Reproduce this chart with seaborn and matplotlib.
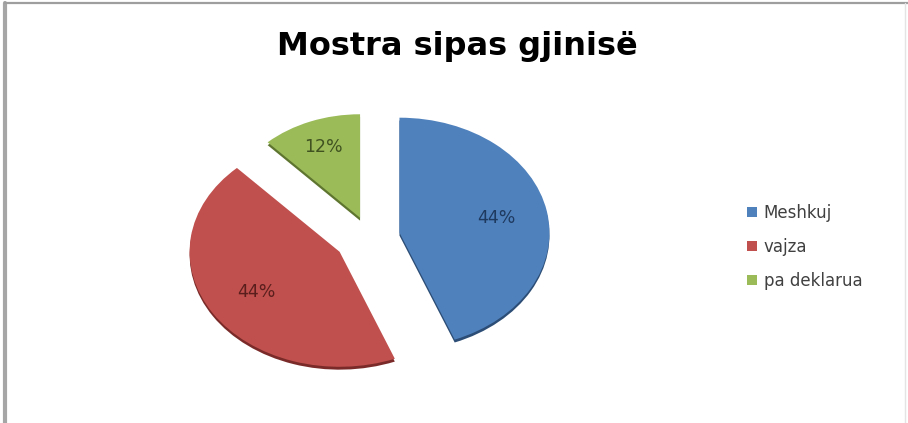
import matplotlib
matplotlib.use("Agg")
import matplotlib.pyplot as plt
from matplotlib.patches import Rectangle
from matplotlib.lines import Line2D
import seaborn as sns

# Survey sample by gender
categories = ["Meshkuj", "vajza", "pa deklarua"]
shares = [44, 44, 12]
title = "Mostra sipas gjinisë"

sns.set_theme(style="white")
plt.rcParams["font.family"] = ["DejaVu Sans"]

face = sns.color_palette(["#4F81BD", "#C0504D", "#9BBB59"])
side = sns.color_palette(["#2C4D75", "#7A2B29", "#5E7530"])
text_col = ["#1F3A5F", "#5A1F1D", "#3F5220"]

W, H = 908, 423
fig = plt.figure(figsize=(W / 100, H / 100), dpi=100)
fig.patch.set_facecolor("white")

# chart frame
fig.add_artist(Line2D([5 / W, 5 / W], [0, 1 - 3 / H], transform=fig.transFigure,
                      color="#A6A6A6", lw=3.0))
fig.add_artist(Line2D([5 / W, 1], [1 - 3.5 / H, 1 - 3.5 / H], transform=fig.transFigure,
                      color="#9E9E9E", lw=1.6))
fig.add_artist(Line2D([905 / W, 905 / W], [0, 1 - 3 / H], transform=fig.transFigure,
                      color="#E4E4E4", lw=1.0))

# pie axes: wider scale horizontally than vertically gives the tilted look
cx, cy = 370, 423 - 237
ux, uy = 150, 115
ax = fig.add_axes([(cx - 1.5 * ux) / W, (cy - 1.5 * uy) / H, 3 * ux / W, 3 * uy / H])

explode = [0.2, 0.24, 0.18]

# slab thickness: a darker copy slightly lower
shadow, _ = ax.pie(shares, colors=side, startangle=90, counterclock=False,
                   explode=explode, center=(0, -0.025),
                   wedgeprops=dict(linewidth=0))
wedges, _, autotexts = ax.pie(shares, colors=face, startangle=90, counterclock=False,
                              explode=explode, autopct="%1.0f%%", pctdistance=0.66,
                              wedgeprops=dict(linewidth=0),
                              textprops=dict(fontsize=12.5))
for w in (shadow[2], wedges[2]):
    w.set_radius(0.9)
for t, c in zip(autotexts, text_col):
    t.set_color(c)

ax.set_aspect("auto")
ax.set_xlim(-1.5, 1.5)
ax.set_ylim(-1.5, 1.5)
ax.axis("off")

fig.text(457 / W, 1 - 46 / H, title, ha="center", va="center",
         fontsize=23, fontweight="bold", color="black")

handles = [Rectangle((0, 0), 1, 1, facecolor=c, edgecolor="none") for c in face]
fig.legend(handles, categories, loc="upper left",
           bbox_to_anchor=(732 / W, 1 - 189 / H), frameon=False,
           fontsize=12, handlelength=0.6, handleheight=0.6,
           handletextpad=0.4, labelspacing=0.95, labelcolor="#404040")

fig.savefig("out.png", dpi=100, facecolor="white")
